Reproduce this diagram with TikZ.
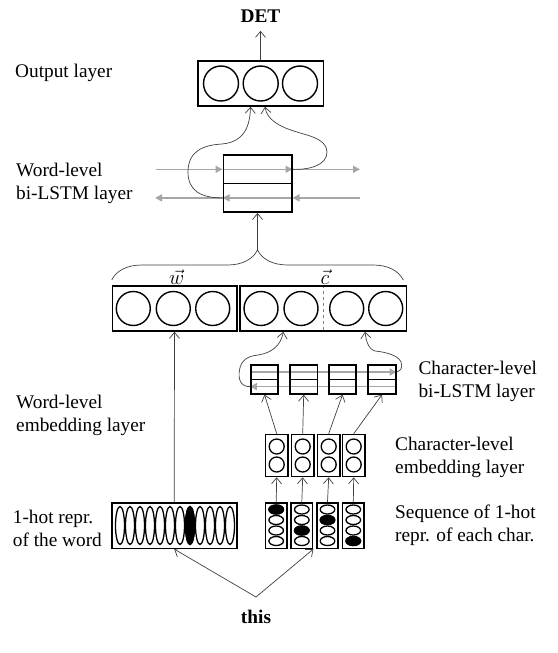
\documentclass[tikz,border=0pt]{standalone}
\usepackage{fontspec}
\setmainfont{Liberation Serif}
\usetikzlibrary{arrows.meta,shapes.geometric,decorations.pathreplacing}

\pgfdeclarelayer{bg}
\pgfsetlayers{bg,main}

\begin{document}
\begin{tikzpicture}[x=1pt,y=-1pt,
  box/.style={draw=black,line width=1.6pt,inner sep=0pt},
  neuron/.style={shape=circle,draw=black,line width=1.4pt,inner sep=0pt,minimum size=#1},
  bit/.style={shape=ellipse,draw=black,line width=1.3pt,inner sep=0pt,minimum width=14.6pt,minimum height=9pt},
  vbit/.style={shape=ellipse,draw=black,line width=1.3pt,inner sep=0pt,minimum width=9pt,minimum height=38pt},
  lbl/.style={anchor=west,align=left,inner sep=0pt,font=\fontsize{19.3}{23}\selectfont},
  fwd/.style={draw=gray!70,line width=1.6pt,-{Triangle[length=7pt,width=7pt]}},
  link/.style={draw=black!75,line width=0.7pt,-{Straight Barb[length=6pt,width=10pt]}}]

  \useasboundingbox (0,0) rectangle (557,653);

  % output layer
  \node[box,minimum width=125.6pt,minimum height=45pt] (out) at (260.5,83.5) {};
  \foreach [count=\n] \x in {221,260.7,300} {
    \node[neuron=35pt] (o\n) at (\x,83.5) {};
  };
  \node[font=\bfseries\fontsize{19.3}{23}\selectfont] (det) at (260.5,16) {DET};

  % word-level bi-LSTM
  \node[box,minimum width=68.4pt,minimum height=28.6pt] (wf) at (257.5,169.3) {};
  \node[box,minimum width=68.4pt,minimum height=28.6pt] (wb) at (257.5,197.9) {};
  \coordinate (wfl) at (156,169.3);
  \coordinate (wfr) at (360,169.3);
  \coordinate (wbl) at (155,197.9);
  \coordinate (wbr) at (360,197.9);
  \coordinate (brtip) at (257.5,250);

  % word-level and character-level embeddings
  \node[box,minimum width=124.4pt,minimum height=45pt] (wemb) at (174.5,308.5) {};
  \node[box,minimum width=166.7pt,minimum height=45pt] (cemb) at (323.3,308.5) {};
  \foreach [count=\n] \x in {133.3,173.3,212.7} {
    \node[neuron=34pt] (w\n) at (\x,308.5) {};
  };
  \foreach [count=\n] \x in {261,301,346.7,385.7} {
    \node[neuron=34pt] (c\n) at (\x,308.5) {};
  };
  \node[font=\fontsize{19.3}{23}\selectfont,inner sep=0pt] (wvec) at (176.7,277) {$\vec{w}$};
  \node[font=\fontsize{19.3}{23}\selectfont,inner sep=0pt] (cvec) at (325,277) {$\vec{c}$};

  % character-level bi-LSTM
  \foreach [count=\n] \x in {264.5,303.7,342.5,382} {
    \node[box,minimum width=27.5pt,minimum height=14.6pt] (f\n) at (\x,372) {};
    \node[box,minimum width=27.5pt,minimum height=14.6pt] (b\n) at (\x,386.6) {};
  };

  % character embeddings
  \foreach [count=\n] \x in {276.7,302.7,328.7,353.7} {
    \node[box,minimum width=22.5pt,minimum height=42pt] (e\n) at (\x,455.5) {};
    \node[neuron=15pt,line width=1.3pt] at (\x,446.5) {};
    \node[neuron=15pt,line width=1.3pt] at (\x,464.5) {};
  };

  % 1-hot chars
  \foreach [count=\n] \x/\k in {276.2/1,301.8/3,327.5/2,353.3/4} {
    \node[box,minimum width=21.5pt,minimum height=45.6pt] (h\n) at (\x,525.5) {};
    \foreach \y in {509.5,520,530.5,541} {
      \node[bit] at (\x,\y) {};
    };
    \node[bit,fill=black] at (\x,{509.5+(\k-1)*10.5}) {};
  };

  % 1-hot word
  \node[box,minimum width=125pt,minimum height=45.6pt] (hw) at (174.2,525.5) {};
  \foreach \n in {0,...,11} {
    \node[vbit] at ({120+\n*10},525.5) {};
  };
  \node[vbit,fill=black] at (190,525.5) {};

  \node[font=\bfseries\fontsize{19.3}{23}\selectfont,inner ysep=13pt] (this) at (256,617) {this};

  % labels
  \node[lbl] (lout) at (15,73.3) {Output layer};
  \node[lbl] (lwl) at (16,183) {Word-level\\bi-LSTM layer};
  \node[lbl] (lwe) at (16,415) {Word-level\\embedding layer};
  \node[lbl] (lhw) at (12.7,528) {1-hot repr.\\of the word};
  \node[lbl] (lcl) at (418.3,381) {Character-level\\bi-LSTM layer};
  \node[lbl] (lce) at (395,457) {Character-level\\embedding layer};
  \node[lbl] (lhc) at (395,525) {Sequence of 1-hot\\repr. of each char.};

  \begin{pgfonlayer}{bg}
  % gray recurrent arrows
  \draw[fwd] (wfl) -- (wf.west);
  \draw[fwd] (wf.west) -- (wf.east);
  \draw[fwd] (wf.east) -- (wfr);
  \draw[fwd] (wbr) -- (wb.east);
  \draw[fwd] (wb.east) -- (wb.west);
  \draw[fwd] (wb.west) -- (wbl);
  \draw[fwd] (f1.west) -- (f4.east);
  \draw[fwd] (b4.east) -- (b1.west);

  % links
  \draw[link] (out.north) -- ([yshift=-5pt]det.south);
  \draw[link] (wb.west) .. controls (200,198) and (188,190) .. (188,172)
    .. controls (188,150) and (205,145) .. (222,144)
    .. controls (245,142) and (250,125) .. ([xshift=-10pt]out.south);
  \draw[link] (wf.east) .. controls (310,170) and (327,165) .. (327,152)
    .. controls (327,138) and (305,135) .. (297,132)
    .. controls (280,127) and (267,120) .. ([xshift=4.5pt]out.south);
  \draw[decorate,decoration={brace,amplitude=30pt},draw=black!75,line width=0.7pt]
    (111.7,280) -- (403.3,280);
  \draw[link] (brtip) -- (wb.south);
  \draw[gray,dashed,line width=0.6pt] (cemb.north) -- (cemb.south);
  \draw[link] (b1.west) .. controls (240,387) and (238,378) .. (239.5,370)
    .. controls (241,360) and (248,356) .. (258,355)
    .. controls (272,353) and (281,345) .. ([xshift=-40pt]cemb.south);
  \draw[link] (f4.east) .. controls (401,371) and (403,367) .. (401,362)
    .. controls (398,355) and (385,352) .. (375,351)
    .. controls (368,349) and (366,340) .. ([xshift=41.7pt]cemb.south);
  \foreach \n in {1,...,4} {
    \draw[link] (e\n.north) -- (b\n.south);
    \draw[link] (h\n.north) -- (e\n.south);
  };
  \draw[link] (hw.north) -- (wemb.south);
  \draw[link] (this.north) -- (hw.south);
  \draw[link] (this.north) -- (h2.south east);
  \end{pgfonlayer}

\end{tikzpicture}
\end{document}
